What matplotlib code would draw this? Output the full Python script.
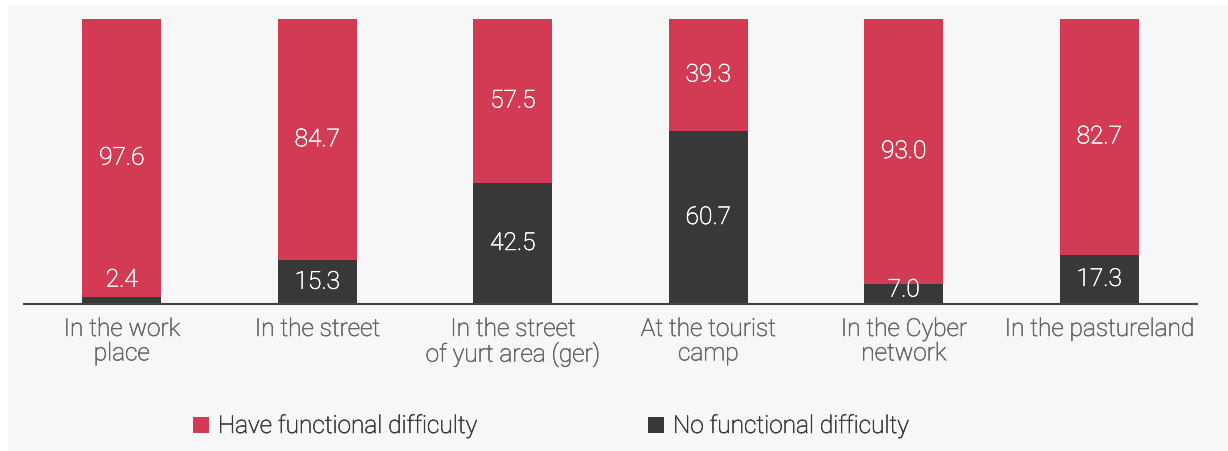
import matplotlib.pyplot as plt
import matplotlib.patheffects as pe
from matplotlib.patches import Rectangle

# functional difficulty by place, percent
places = ["In the work\nplace", "In the street", "In the street\nof yurt area (ger)",
          "At the tourist\ncamp", "In the Cyber\nnetwork", "In the pastureland"]
no_difficulty = [2.4, 15.3, 42.5, 60.7, 7.0, 17.3]
have_difficulty = [97.6, 84.7, 57.5, 39.3, 93.0, 82.7]

RED = "#d33a53"
DARK = "#383838"
BG = "#f7f7f7"
FS = 17.6
WEIGHT = "light"


def thicken(color):
    # light face is a little thin at this size, give it a hairline outline
    return [pe.withStroke(linewidth=0.45, foreground=color)]


plt.rcParams['font.family'] = ['Roboto', 'DejaVu Sans']

fig = plt.figure(figsize=(12.28, 4.52), dpi=100)
fig.patch.set_facecolor("white")
# light panel behind everything
fig.patches.append(Rectangle((8 / 1228, 0), 1 - 8 / 1228, 1 - 6 / 452,
                             transform=fig.transFigure, facecolor=BG,
                             edgecolor="none", zorder=-10))

ax = fig.add_axes([24 / 1228, 147 / 452, 1173 / 1228, 287 / 452])
ax.patch.set_alpha(0)

x = range(len(places))
w = 0.404
ax.bar(x, no_difficulty, w, color=DARK, zorder=2)
ax.bar(x, have_difficulty, w, bottom=no_difficulty, color=RED, zorder=2)

for i in x:
    lo, hi = no_difficulty[i], have_difficulty[i]
    # bottom segment label; tiny segments get their label just above
    if lo < 5:
        y_lo = lo + 6
    else:
        y_lo = max(lo / 2, 4.9)
    ax.text(i, y_lo, f"{lo:.1f}", ha="center", va="center", color="white",
            fontsize=FS, fontweight=WEIGHT, zorder=3, path_effects=thicken("white"))
    ax.text(i, lo + hi / 2, f"{hi:.1f}", ha="center", va="center", color="white",
            fontsize=FS, fontweight=WEIGHT, zorder=3, path_effects=thicken("white"))

ax.set_xlim(-0.5, len(places) - 0.5)
ax.set_ylim(0, 100.7)
ax.set_xticks(list(x))
ax.set_xticklabels(places, fontsize=FS, fontweight=WEIGHT, color="#666666",
                   linespacing=1.08)
for lab in ax.get_xticklabels():
    lab.set_path_effects(thicken("#666666"))
ax.tick_params(axis="x", length=0, pad=10)
ax.set_yticks([])
for s in ["top", "left", "right"]:
    ax.spines[s].set_visible(False)
ax.spines["bottom"].set_color("#444444")
ax.spines["bottom"].set_linewidth(1.5)

# legend
for xpx, color, label in [(193, RED, "Have functional difficulty"),
                          (648, DARK, "No functional difficulty")]:
    fig.patches.append(Rectangle((xpx / 1228, (452 - 434) / 452), 16 / 1228, 16 / 452,
                                 transform=fig.transFigure, facecolor=color,
                                 edgecolor="none"))
    fig.text((xpx + 25) / 1228, (452 - 427) / 452, label, ha="left", va="center",
             fontsize=FS, fontweight=WEIGHT, color="#3a3a3a",
             path_effects=thicken("#3a3a3a"))

fig.savefig("out.png", dpi=100, facecolor=fig.get_facecolor())
